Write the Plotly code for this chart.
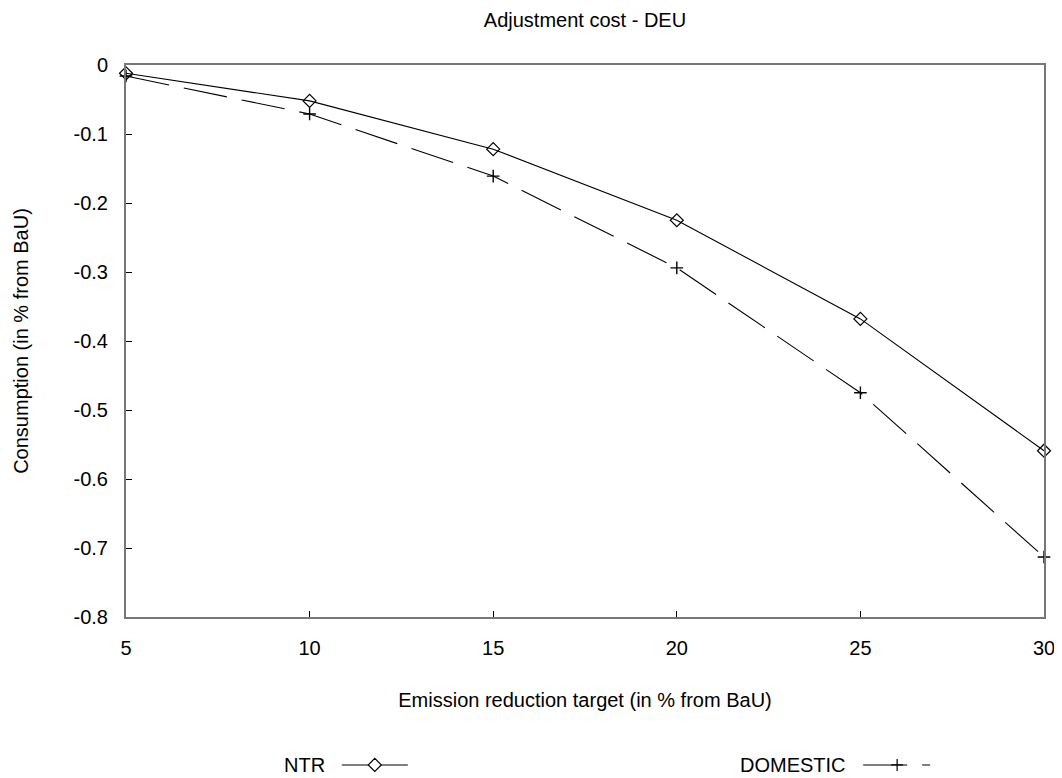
import plotly.graph_objects as go

# ---- data ----
targets = [5, 10, 15, 20, 25, 30]
ntr = [-0.012, -0.052, -0.122, -0.225, -0.368, -0.559]
domestic = [-0.016, -0.071, -0.161, -0.294, -0.475, -0.713]

x_ticks = [5, 10, 15, 20, 25, 30]
x_ticktext = ["5", "10", "15", "20", "25", "30"]
y_ticks = [0, -0.1, -0.2, -0.3, -0.4, -0.5, -0.6, -0.7, -0.8]
y_ticktext = ["0", "-0.1", "-0.2", "-0.3", "-0.4", "-0.5", "-0.6", "-0.7", "-0.8"]

series_names = ["NTR", "DOMESTIC"]

FONT = "Liberation Sans, Arial, sans-serif"
FS = 20

fig = go.Figure()
fig.add_trace(go.Scatter(
    x=targets, y=ntr, mode="lines+markers", name=series_names[0],
    line=dict(color="black", width=1.1),
    marker=dict(symbol="diamond-open", size=10, color="black", line=dict(width=1.2)),
    showlegend=False, cliponaxis=False,
))
fig.add_trace(go.Scatter(
    x=targets, y=domestic, mode="lines+markers", name=series_names[1],
    line=dict(color="black", width=1.1, dash="44px,15px"),
    marker=dict(symbol="cross-thin-open", size=9, color="black", line=dict(width=1.4, color="black")),
    showlegend=False, cliponaxis=False,
))

axis_common = dict(
    showgrid=False, zeroline=False, showline=True, linecolor="#777777", linewidth=2,
    mirror=True, ticks="inside", ticklen=6, tickcolor="black", tickwidth=1,
    tickfont=dict(family=FONT, size=FS, color="black"), automargin=False,
)
fig.update_xaxes(range=[5, 30], tickvals=x_ticks, ticktext=x_ticktext,
                 title=dict(text="Emission reduction target (in % from BaU)",
                            font=dict(family=FONT, size=FS, color="black"), standoff=35),
                 ticklabelstandoff=12, **axis_common)
fig.update_yaxes(range=[-0.8, 0], tickvals=y_ticks, ticktext=y_ticktext,
                 title=dict(text="Consumption (in % from BaU)",
                            font=dict(family=FONT, size=FS, color="black"), standoff=40),
                 ticklabelstandoff=12, **axis_common)

# ---- manual legend (label left of key, as in the original) ----
leg_y = -0.268
legend_items = [
    dict(label_x=0.219, x0=0.235, x1=0.307, mx=0.271, dash="solid", marker="diamond"),
    dict(label_x=0.786, x0=0.803, x1=0.876, mx=0.840, dash="44px,15px", marker="cross"),
]
shapes = []
annotations = []
for name, it in zip(series_names, legend_items):
    annotations.append(dict(text=name, x=it["label_x"], y=leg_y, xref="paper", yref="paper",
                            xanchor="right", yanchor="middle", showarrow=False,
                            font=dict(family=FONT, size=FS, color="black")))
    shapes.append(dict(type="line", xref="paper", yref="paper", x0=it["x0"], x1=it["x1"],
                       y0=leg_y, y1=leg_y, line=dict(color="black", width=1.1, dash=it["dash"])))
    if it["marker"] == "diamond":
        path = "M -6.5 0 L 0 6.5 L 6.5 0 L 0 -6.5 Z"
        fill = "white"
    else:
        path = "M -6 0 L 6 0 M 0 -6 L 0 6"
        fill = None
    shp = dict(type="path", xref="paper", yref="paper", xsizemode="pixel", ysizemode="pixel",
               xanchor=it["mx"], yanchor=leg_y, path=path, line=dict(color="black", width=1.2))
    if fill:
        shp["fillcolor"] = fill
    shapes.append(shp)

fig.update_layout(
    width=1062, height=778,
    margin=dict(l=118, r=26, t=57, b=169),
    paper_bgcolor="white", plot_bgcolor="white",
    title=dict(text="Adjustment cost - DEU", x=0.5, xanchor="center", y=1 - 12 / 778, yanchor="middle",
               xref="paper", font=dict(family=FONT, size=FS, color="black")),
    font=dict(family=FONT, size=FS, color="black"),
    shapes=shapes, annotations=annotations,
)

fig.write_html("out.html")
